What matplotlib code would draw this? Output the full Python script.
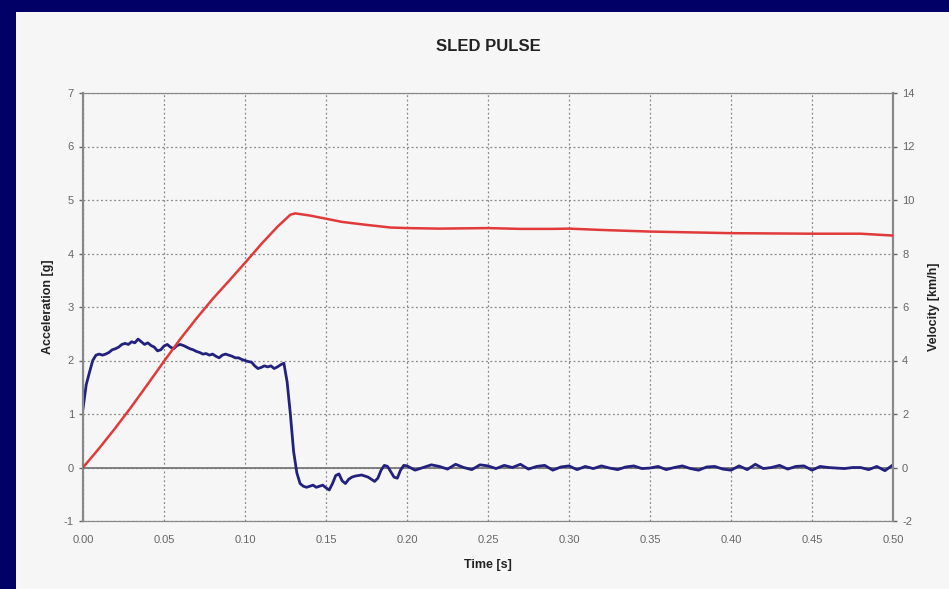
# Sled pulse: acceleration (left axis) and velocity (right axis) vs time
import matplotlib.pyplot as plt
from matplotlib.patches import Rectangle
import numpy as np

# Acceleration trace [g]
acc_time = [0.000, 0.002, 0.004, 0.006, 0.008, 0.010, 0.012, 0.014, 0.016, 0.018,
            0.020, 0.022, 0.024, 0.026, 0.028, 0.030, 0.032, 0.034, 0.036, 0.038,
            0.040, 0.042, 0.044, 0.046, 0.048, 0.050, 0.052, 0.054, 0.056, 0.058,
            0.060, 0.062, 0.064, 0.066, 0.068, 0.070, 0.072, 0.074, 0.076, 0.078,
            0.080, 0.082, 0.084, 0.086, 0.088, 0.090, 0.092, 0.094, 0.096, 0.098,
            0.100, 0.102, 0.104, 0.106, 0.108, 0.110, 0.112, 0.114, 0.116, 0.118,
            0.120, 0.122, 0.124, 0.126, 0.128, 0.130, 0.132, 0.134, 0.136, 0.138,
            0.140, 0.142, 0.144, 0.146, 0.148, 0.150, 0.152, 0.154, 0.156, 0.158,
            0.160, 0.162, 0.164, 0.166, 0.168, 0.170, 0.172, 0.174, 0.176, 0.178,
            0.180, 0.182, 0.184, 0.186, 0.188, 0.190, 0.192, 0.194, 0.196, 0.198,
            0.200, 0.205, 0.210, 0.215, 0.220, 0.225, 0.230, 0.235, 0.240, 0.245,
            0.250, 0.255, 0.260, 0.265, 0.270, 0.275, 0.280, 0.285, 0.290, 0.295,
            0.300, 0.305, 0.310, 0.315, 0.320, 0.325, 0.330, 0.335, 0.340, 0.345,
            0.350, 0.355, 0.360, 0.365, 0.370, 0.375, 0.380, 0.385, 0.390, 0.395,
            0.400, 0.405, 0.410, 0.415, 0.420, 0.425, 0.430, 0.435, 0.440, 0.445,
            0.450, 0.455, 0.460, 0.465, 0.470, 0.475, 0.480, 0.485, 0.490, 0.495,
            0.500]
acceleration = [1.10, 1.55, 1.78, 2.00, 2.10, 2.12, 2.10, 2.12, 2.15, 2.20,
                2.22, 2.25, 2.30, 2.32, 2.30, 2.35, 2.33, 2.40, 2.35, 2.30,
                2.33, 2.28, 2.25, 2.18, 2.20, 2.27, 2.30, 2.25, 2.22, 2.28,
                2.30, 2.28, 2.25, 2.22, 2.20, 2.17, 2.15, 2.12, 2.13, 2.10,
                2.12, 2.08, 2.05, 2.10, 2.12, 2.10, 2.08, 2.05, 2.05, 2.02,
                2.00, 1.98, 1.97, 1.90, 1.85, 1.87, 1.90, 1.88, 1.90, 1.85,
                1.88, 1.92, 1.95, 1.60, 1.00, 0.30, -0.10, -0.30, -0.35, -0.37,
                -0.35, -0.33, -0.37, -0.35, -0.33, -0.38, -0.42, -0.30, -0.15, -0.12,
                -0.25, -0.30, -0.22, -0.18, -0.16, -0.15, -0.14, -0.16, -0.18, -0.22,
                -0.26, -0.20, -0.05, 0.04, 0.02, -0.08, -0.18, -0.20, -0.05, 0.04,
                0.03, -0.05, 0.00, 0.05, 0.02, -0.03, 0.06, 0.00, -0.04, 0.05,
                0.03, -0.02, 0.04, 0.00, 0.06, -0.03, 0.02, 0.04, -0.05, 0.01,
                0.03, -0.04, 0.02, -0.02, 0.03, -0.01, -0.04, 0.01, 0.03, -0.02,
                -0.01, 0.02, -0.04, 0.00, 0.03, -0.02, -0.05, 0.01, 0.02, -0.03,
                -0.05, 0.03, -0.04, 0.06, -0.02, 0.00, 0.04, -0.03, 0.02, 0.03,
                -0.05, 0.02, 0.00, -0.01, -0.02, 0.00, 0.00, -0.04, 0.02, -0.06,
                0.05]

# Velocity trace [km/h]
vel_time = [0.000, 0.010, 0.020, 0.030, 0.040, 0.050, 0.060, 0.070, 0.080, 0.090,
            0.100, 0.110, 0.120, 0.128, 0.131, 0.140, 0.150, 0.160, 0.175, 0.190,
            0.200, 0.220, 0.250, 0.270, 0.290, 0.300, 0.320, 0.350, 0.400, 0.450,
            0.480, 0.500]
velocity = [0.00, 0.72, 1.48, 2.28, 3.12, 3.97, 4.80, 5.57, 6.30, 6.97,
            7.65, 8.35, 9.00, 9.45, 9.50, 9.42, 9.30, 9.18, 9.07, 8.97,
            8.95, 8.93, 8.95, 8.92, 8.92, 8.93, 8.88, 8.82, 8.76, 8.74,
            8.74, 8.67]

x_ticks = np.arange(0, 0.501, 0.05)

plt.rcParams["font.family"] = ["Liberation Sans Narrow", "Liberation Sans", "DejaVu Sans"]
plt.rcParams["axes.unicode_minus"] = False

fig = plt.figure(figsize=(9.49, 5.89), dpi=100)
fig.patch.set_facecolor("#000066")
# light chart panel on top of the dark slide background
fig.patches.append(Rectangle((16 / 949, 0), 1 - 16 / 949, 1 - 12 / 589,
                             transform=fig.transFigure, facecolor="#f6f6f6",
                             edgecolor="none", zorder=-10))

ax = fig.add_axes([83 / 949, 1 - 521 / 589, 810 / 949, 428 / 589])
ax.set_facecolor("#f6f6f6")
ax2 = ax.twinx()

ax.plot(acc_time, acceleration, color="#22227e", lw=2, zorder=3)
ax2.plot(vel_time, velocity, color="#e03a3a", lw=1.8, zorder=3)

ax.set_xlim(0, 0.5)
ax.set_ylim(-1, 7)
ax2.set_ylim(-2, 14)
ax.set_xticks(x_ticks)
ax.set_xticklabels([f"{t:.2f}" for t in x_ticks])
ax.set_yticks(range(-1, 8))
ax2.set_yticks(range(-2, 15, 2))

ax.grid(True, color="#888888", linestyle=(0, (1.5, 2)), lw=0.9)
ax.axhline(0, color="#777777", lw=1.3, zorder=2)

for a in (ax, ax2):
    for s in a.spines.values():
        s.set_color("#888888")
    a.spines["left"].set_linewidth(1.5)
    a.spines["right"].set_linewidth(1.5)
    a.tick_params(colors="#666666", labelsize=8, length=3, width=1)
ax.tick_params(axis="x", length=0, pad=10)

ax.set_title("SLED PULSE", fontsize=12, fontweight="bold", color="#222222", pad=30)
ax.set_xlabel("Time [s]", fontsize=9, fontweight="bold", color="#222222", labelpad=10)
ax.set_ylabel("Acceleration [g]", fontsize=9, fontweight="bold", color="#222222", labelpad=7)
ax2.set_ylabel("Velocity [km/h]", fontsize=9, fontweight="bold", color="#222222", labelpad=10)

plt.savefig("out.png", dpi=100, facecolor=fig.get_facecolor())
